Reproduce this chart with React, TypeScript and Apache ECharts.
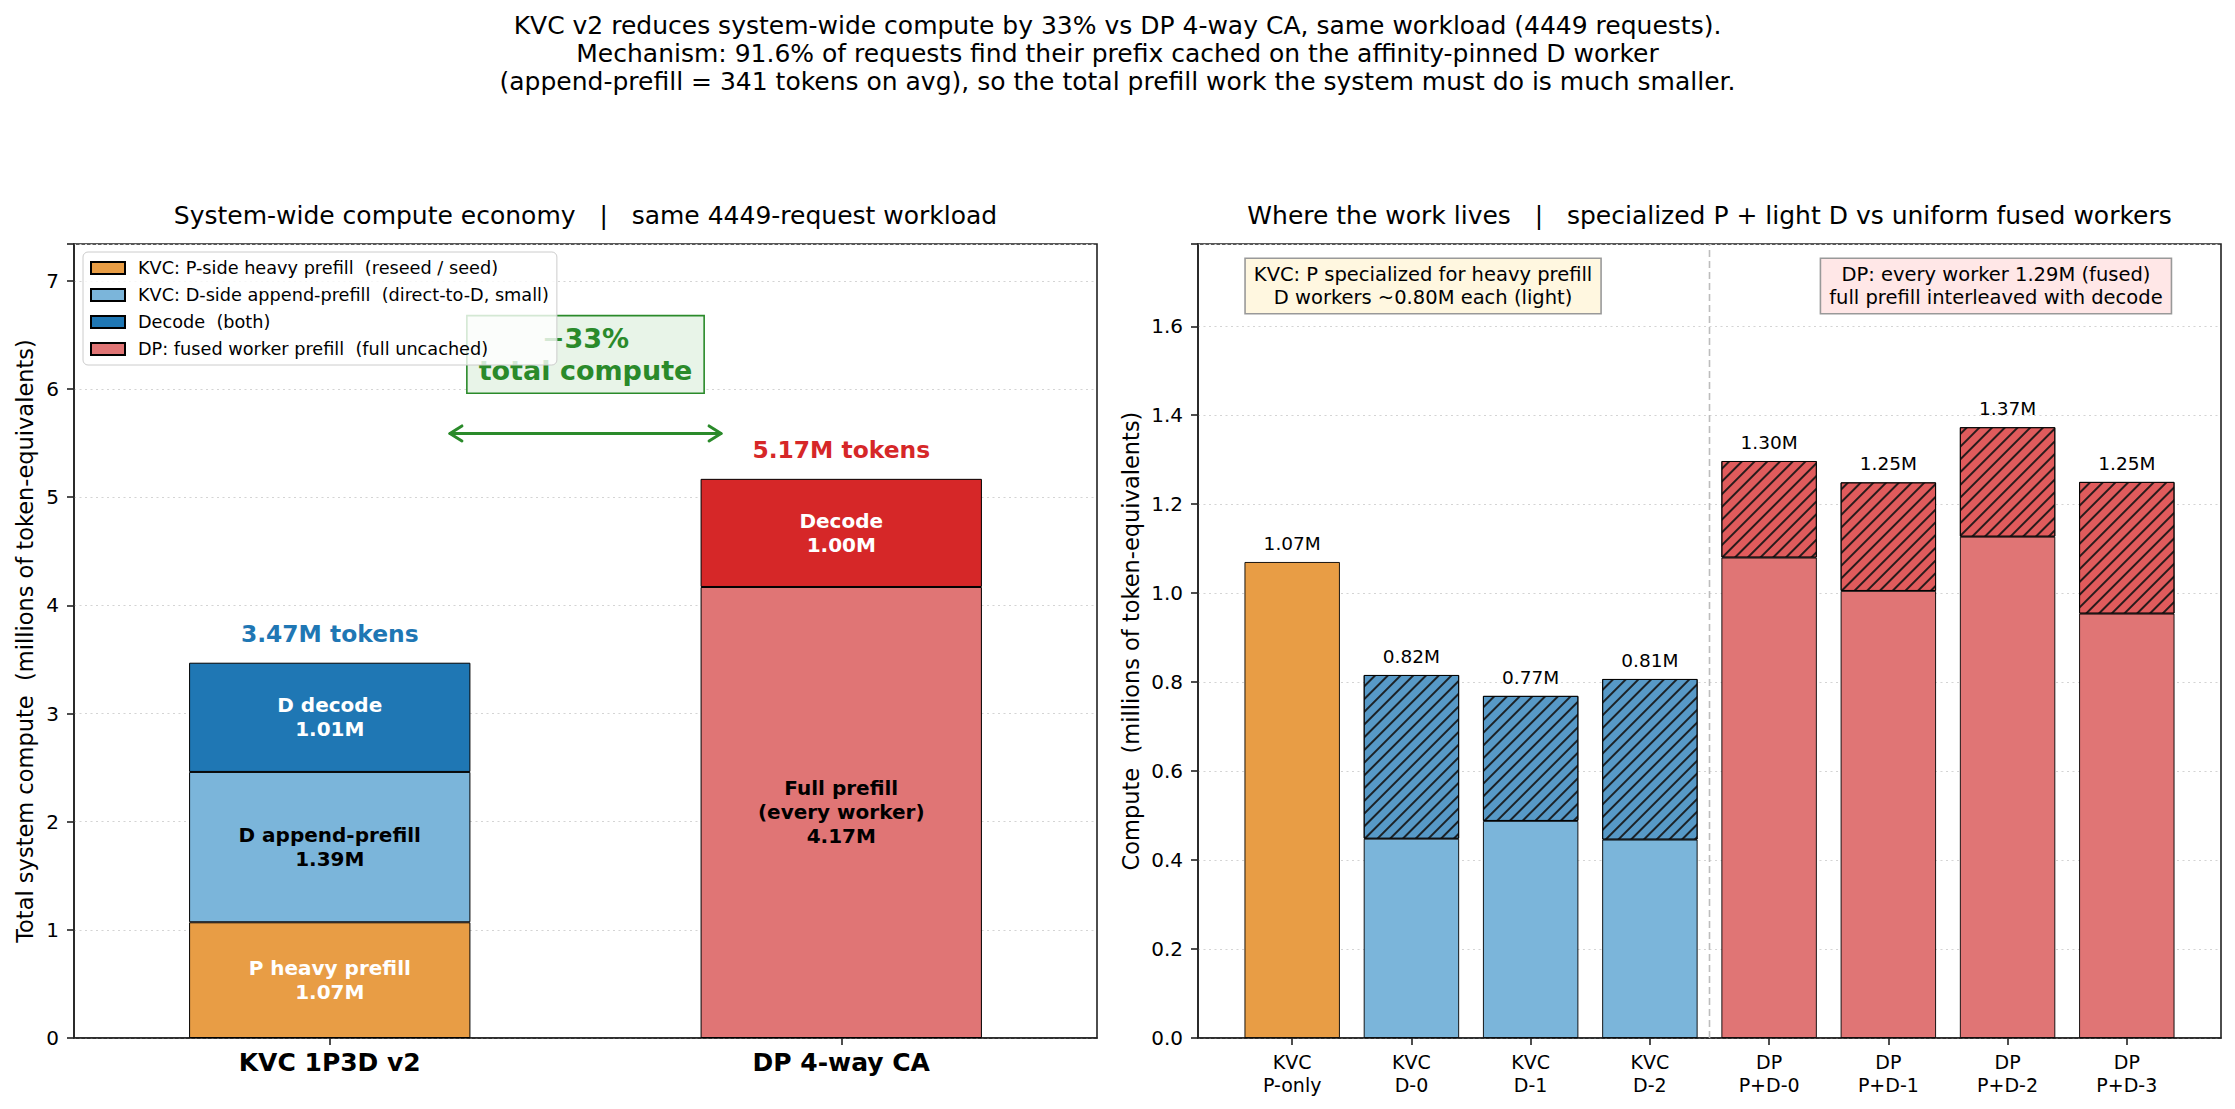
import React, { useEffect, useRef } from 'react';
import * as echarts from 'echarts';

const W = 2235;
const H = 1109;
const FONT = "'DejaVu Sans', 'Liberation Sans', Arial, sans-serif";

// ---- texts ----
const SUPTITLE = [
  'KVC v2 reduces system-wide compute by 33% vs DP 4-way CA, same workload (4449 requests).',
  'Mechanism: 91.6% of requests find their prefix cached on the affinity-pinned D worker',
  '(append-prefill = 341 tokens on avg), so the total prefill work the system must do is much smaller.',
];
const LEFT_TITLE = 'System-wide compute economy   |   same 4449-request workload';
const RIGHT_TITLE = 'Where the work lives   |   specialized P + light D vs uniform fused workers';
const LEFT_YNAME = 'Total system compute  (millions of token-equivalents)';
const RIGHT_YNAME = 'Compute  (millions of token-equivalents)';
const KVC_NOTE = 'KVC: P specialized for heavy prefill\nD workers ~0.80M each (light)';
const DP_NOTE = 'DP: every worker 1.29M (fused)\nfull prefill interleaved with decode';
const SAVING_NOTE = '\u221233%\ntotal compute';

// ---- left panel: system-wide totals (millions of token-equivalents) ----
const systemCategories = ['KVC 1P3D v2', 'DP 4-way CA'];
const pHeavyPrefill: (number | null)[] = [1.07, null];
const dAppendPrefill: (number | null)[] = [1.39, null];
const fusedPrefill: (number | null)[] = [null, 4.17];
const decodeWork: number[] = [1.01, 1.0];
const decodeLabels = ['D decode', 'Decode'];

const legendNames = [
  'KVC: P-side heavy prefill  (reseed / seed)',
  'KVC: D-side append-prefill  (direct-to-D, small)',
  'Decode  (both)',
  'DP: fused worker prefill  (full uncached)',
];

// ---- right panel: per-worker compute ----
const workerCategories = [
  'KVC\nP-only', 'KVC\nD-0', 'KVC\nD-1', 'KVC\nD-2',
  'DP\nP+D-0', 'DP\nP+D-1', 'DP\nP+D-2', 'DP\nP+D-3',
];
const workerRole = ['P', 'D', 'D', 'D', 'DP', 'DP', 'DP', 'DP'];
const workerPrefill = [1.07, 0.448, 0.488, 0.446, 1.08, 1.005, 1.127, 0.954];
const workerDecode: (number | null)[] = [null, 0.368, 0.281, 0.361, 0.217, 0.244, 0.246, 0.296];

// ---- colours ----
const ORANGE = '#e89d45';
const LIGHT_BLUE = '#7bb5da';
const BLUE = '#1f77b4';
const LIGHT_RED = '#e07575';
const RED = '#d62728';
const HATCH_BLUE = '#5799c7';
const HATCH_RED = '#e05b5c';
const GREEN = '#2a8a2a';
const AX = '#222222';
const GRID_LINE = '#d4d4d4';

// ---- layout ----
const LEFT_BOX = { x0: 74, x1: 1097, y0: 244, y1: 1038 };
const RIGHT_BOX = { x0: 1198, x1: 2221, y0: 244, y1: 1038 };
const WORKER_XMIN = -0.79;
const WORKER_XMAX = 7.79;
const ARROW_X = [0.233, 0.767];
const ARROW_Y = 5.59;
const SAVING_Y = 6.32;

const fmtM = (v: number) => `${v.toFixed(2)}M`;
const dash = (v: number | null) => (v == null ? '-' : v);

const systemTotals = systemCategories.map(
  (_, i) => (pHeavyPrefill[i] ?? 0) + (dAppendPrefill[i] ?? 0) + (fusedPrefill[i] ?? 0) + decodeWork[i]
);
const workerTotals = workerPrefill.map((v, i) => v + (workerDecode[i] ?? 0));
const LEFT_MAX = Math.max(...systemTotals) * 1.42;
const RIGHT_MAX = Math.max(...workerTotals) * 1.3;

// "//" hatch for the decode share of each worker
const HATCH = {
  symbol: 'rect',
  symbolSize: 1,
  color: 'rgba(20,20,20,0.9)',
  dashArrayX: [1, 0],
  dashArrayY: [2, 7],
  rotation: -Math.PI / 4,
};

const edge = { borderColor: '#000', borderWidth: 1 };

const segLabel = (color: string) => ({
  show: true,
  position: 'inside',
  color,
  fontFamily: FONT,
  fontWeight: 'bold',
  fontSize: 20,
  lineHeight: 24,
});

const tickFmt = (step: number, digits: number) => (v: number) =>
  Math.abs(v / step - Math.round(v / step)) < 1e-6 ? v.toFixed(digits) : '';

function buildOption(): any {
  const inset = ((-0.5 - WORKER_XMIN) / (WORKER_XMAX - WORKER_XMIN)) * (RIGHT_BOX.x1 - RIGHT_BOX.x0);
  const axisLine = { show: true, onZero: false, lineStyle: { color: AX, width: 1.6 } };
  const axisTick = { show: true, length: 7, lineStyle: { color: AX, width: 1.6 } };
  const splitLine = { show: true, lineStyle: { color: GRID_LINE, width: 1.2, type: [2, 3.5] } };
  const tickLabel = { color: '#000', fontFamily: FONT, fontSize: 20, margin: 15 };

  return {
    animation: false,
    backgroundColor: '#ffffff',
    textStyle: { fontFamily: FONT },
    legend: {
      data: legendNames,
      orient: 'vertical',
      left: 83,
      top: 252,
      itemWidth: 34,
      itemHeight: 12,
      itemGap: 7,
      icon: 'rect',
      z: 10,
      backgroundColor: 'rgba(255,255,255,0.8)',
      borderColor: '#cccccc',
      borderWidth: 1,
      borderRadius: 5,
      padding: [6, 8, 6, 7],
      selectedMode: false,
      textStyle: { color: '#000', fontFamily: FONT, fontSize: 17.7, lineHeight: 20, padding: [0, 0, 0, 8] },
    },
    grid: [
      {
        left: LEFT_BOX.x0, right: W - LEFT_BOX.x1, top: LEFT_BOX.y0, bottom: H - LEFT_BOX.y1,
        show: true, borderColor: AX, borderWidth: 1.6, backgroundColor: 'transparent',
      },
      {
        left: RIGHT_BOX.x0, right: W - RIGHT_BOX.x1, top: RIGHT_BOX.y0, bottom: H - RIGHT_BOX.y1,
        show: true, borderColor: AX, borderWidth: 1.6, backgroundColor: 'transparent',
      },
      {
        left: RIGHT_BOX.x0 + inset, right: W - RIGHT_BOX.x1 + inset, top: RIGHT_BOX.y0, bottom: H - RIGHT_BOX.y1,
      },
    ],
    xAxis: [
      {
        gridIndex: 0, type: 'category', data: systemCategories,
        axisLine, axisTick: { ...axisTick, alignWithLabel: true },
        axisLabel: { color: '#000', fontFamily: FONT, fontSize: 25, fontWeight: 'bold', margin: 12 },
      },
      { gridIndex: 0, type: 'value', min: -0.5, max: 1.5, show: false },
      {
        gridIndex: 1, type: 'value', min: WORKER_XMIN, max: WORKER_XMAX,
        axisLine, axisTick: { show: false }, axisLabel: { show: false }, splitLine: { show: false },
      },
      {
        gridIndex: 2, type: 'category', data: workerCategories,
        axisLine: { show: false }, axisTick: { ...axisTick, alignWithLabel: true },
        axisLabel: { color: '#000', fontFamily: FONT, fontSize: 19, lineHeight: 23, margin: 12 },
      },
    ],
    yAxis: [
      {
        gridIndex: 0, type: 'value', min: 0, max: LEFT_MAX, interval: 1,
        axisLine, axisTick, splitLine,
        axisLabel: { ...tickLabel, formatter: tickFmt(1, 0) },
        name: LEFT_YNAME, nameLocation: 'middle', nameGap: 38,
        nameTextStyle: { color: '#000', fontFamily: FONT, fontSize: 22.5 },
      },
      {
        gridIndex: 1, type: 'value', min: 0, max: RIGHT_MAX, interval: 0.2,
        axisLine, axisTick, splitLine,
        axisLabel: { ...tickLabel, formatter: tickFmt(0.2, 1) },
        name: RIGHT_YNAME, nameLocation: 'middle', nameGap: 56,
        nameTextStyle: { color: '#000', fontFamily: FONT, fontSize: 22.5 },
      },
      { gridIndex: 2, type: 'value', min: 0, max: RIGHT_MAX, show: false },
    ],
    series: [
      // left panel stacks
      {
        name: legendNames[0], type: 'bar', stack: 'system', xAxisIndex: 0, yAxisIndex: 0,
        barWidth: '55%', data: pHeavyPrefill.map(dash),
        itemStyle: { color: ORANGE, ...edge },
        label: { ...segLabel('#fff'), formatter: (p: any) => `P heavy prefill\n${fmtM(p.value)}` },
      },
      {
        name: legendNames[1], type: 'bar', stack: 'system', xAxisIndex: 0, yAxisIndex: 0,
        barWidth: '55%', data: dAppendPrefill.map(dash),
        itemStyle: { color: LIGHT_BLUE, ...edge },
        label: { ...segLabel('#000'), formatter: (p: any) => `D append-prefill\n${fmtM(p.value)}` },
      },
      {
        name: legendNames[3], type: 'bar', stack: 'system', xAxisIndex: 0, yAxisIndex: 0,
        barWidth: '55%', data: fusedPrefill.map(dash),
        itemStyle: { color: LIGHT_RED, ...edge },
        label: { ...segLabel('#000'), formatter: (p: any) => `Full prefill\n(every worker)\n${fmtM(p.value)}` },
      },
      {
        name: legendNames[2], type: 'bar', stack: 'system', xAxisIndex: 0, yAxisIndex: 0,
        barWidth: '55%',
        data: decodeWork.map((v, i) => ({ value: v, itemStyle: { color: i === 0 ? BLUE : RED } })),
        itemStyle: { color: BLUE, ...edge },
        label: { ...segLabel('#fff'), formatter: (p: any) => `${decodeLabels[p.dataIndex]}\n${fmtM(p.value)}` },
      },
      {
        name: 'System total', type: 'bar', xAxisIndex: 0, yAxisIndex: 0,
        barWidth: '55%', barGap: '-100%', silent: true, z: 1,
        data: systemTotals.map((v, i) => ({
          value: v,
          label: { color: i === 0 ? BLUE : RED },
        })),
        itemStyle: { color: 'rgba(0,0,0,0)', borderWidth: 0 },
        label: {
          show: true, position: 'top', distance: 17,
          fontFamily: FONT, fontWeight: 'bold', fontSize: 23.4,
          formatter: (p: any) => `${fmtM(p.value)} tokens`,
        },
      },
      // right panel stacks
      {
        name: 'Worker prefill', type: 'bar', stack: 'worker', xAxisIndex: 3, yAxisIndex: 2,
        barWidth: '80%',
        data: workerPrefill.map((v, i) => ({
          value: v,
          itemStyle: { color: workerRole[i] === 'P' ? ORANGE : workerRole[i] === 'D' ? LIGHT_BLUE : LIGHT_RED },
        })),
        itemStyle: { ...edge, borderWidth: 0.9 },
      },
      {
        name: 'Worker decode', type: 'bar', stack: 'worker', xAxisIndex: 3, yAxisIndex: 2,
        barWidth: '80%',
        data: workerDecode.map((v, i) =>
          v == null
            ? '-'
            : {
                value: v,
                itemStyle: { color: workerRole[i] === 'D' ? HATCH_BLUE : HATCH_RED, decal: HATCH },
              }
        ),
        itemStyle: { ...edge, borderWidth: 0.9 },
      },
      {
        name: 'Worker total', type: 'bar', xAxisIndex: 3, yAxisIndex: 2,
        barWidth: '80%', barGap: '-100%', silent: true, z: 1,
        data: workerTotals,
        itemStyle: { color: 'rgba(0,0,0,0)', borderWidth: 0 },
        label: {
          show: true, position: 'top', distance: 9, color: '#000',
          fontFamily: FONT, fontSize: 18.5,
          formatter: (p: any) => fmtM(p.value),
        },
      },
    ],
  };
}

function buildGraphics(chart: echarts.ECharts): any[] {
  const toL = (pt: number[]) => chart.convertToPixel({ xAxisIndex: 1, yAxisIndex: 0 } as any, pt) as number[];
  const toR = (pt: number[]) => chart.convertToPixel({ xAxisIndex: 2, yAxisIndex: 1 } as any, pt) as number[];

  const [a1x, ay] = toL([ARROW_X[0], ARROW_Y]);
  const [a2x] = toL([ARROW_X[1], ARROW_Y]);
  const [bx, by] = toL([0.5, SAVING_Y]);
  const [sx, sBottom] = toR([3.5, 0]);
  const [, sTop] = toR([3.5, RIGHT_MAX]);

  const rw = RIGHT_BOX.x1 - RIGHT_BOX.x0;
  const head = 13;
  const hw = 7.5;
  const greenLine = { stroke: GREEN, lineWidth: 3, fill: 'none', lineJoin: 'round', lineCap: 'round' };

  return [
    {
      type: 'text', x: W / 2, y: 11, z: 5,
      style: {
        text: SUPTITLE.join('\n'), fill: '#000', font: `25px ${FONT}`,
        align: 'center', verticalAlign: 'top', lineHeight: 28,
      },
    },
    {
      type: 'text', x: (LEFT_BOX.x0 + LEFT_BOX.x1) / 2, y: 215, z: 5,
      style: { text: LEFT_TITLE, fill: '#000', font: `25px ${FONT}`, align: 'center', verticalAlign: 'middle' },
    },
    {
      type: 'text', x: (RIGHT_BOX.x0 + RIGHT_BOX.x1) / 2, y: 215, z: 5,
      style: { text: RIGHT_TITLE, fill: '#000', font: `25px ${FONT}`, align: 'center', verticalAlign: 'middle' },
    },
    // saving badge (below legend)
    {
      type: 'text', x: bx, y: by, z: 1,
      style: {
        text: SAVING_NOTE, fill: GREEN, font: `bold 27px ${FONT}`, align: 'center', verticalAlign: 'middle',
        lineHeight: 32, backgroundColor: '#e8f4e8', borderColor: GREEN, borderWidth: 1.6, padding: [6, 11, 6, 11],
      },
    },
    // double-headed arrow between the two totals
    { type: 'line', z: 2, shape: { x1: a1x + 1, y1: ay, x2: a2x - 1, y2: ay }, style: greenLine },
    {
      type: 'polyline', z: 2,
      shape: { points: [[a1x + head, ay - hw], [a1x + 1, ay], [a1x + head, ay + hw]] },
      style: greenLine,
    },
    {
      type: 'polyline', z: 2,
      shape: { points: [[a2x - head, ay - hw], [a2x - 1, ay], [a2x - head, ay + hw]] },
      style: greenLine,
    },
    // KVC / DP separator
    {
      type: 'line', z: 2, shape: { x1: sx, y1: sBottom, x2: sx, y2: sTop },
      style: { stroke: '#bdbdbd', lineWidth: 1.6, lineDash: [7, 4] },
    },
    {
      type: 'text', x: RIGHT_BOX.x0 + 0.22 * rw, y: 259, z: 3,
      style: {
        text: KVC_NOTE, fill: '#000', font: `19.5px ${FONT}`, align: 'center', verticalAlign: 'top',
        lineHeight: 23, backgroundColor: '#fff7e0', borderColor: '#999999', borderWidth: 1.6, padding: [4, 8, 4, 8],
      },
    },
    {
      type: 'text', x: RIGHT_BOX.x0 + 0.78 * rw, y: 259, z: 3,
      style: {
        text: DP_NOTE, fill: '#000', font: `19.5px ${FONT}`, align: 'center', verticalAlign: 'top',
        lineHeight: 23, backgroundColor: '#ffe7e7', borderColor: '#999999', borderWidth: 1.6, padding: [4, 8, 4, 8],
      },
    },
  ];
}

export default function App() {
  const ref = useRef<HTMLDivElement>(null);
  useEffect(() => {
    document.body.style.margin = '0';
    const el = ref.current;
    if (!el) return;
    const chart = echarts.init(el, undefined, { renderer: 'svg', width: W, height: H });
    chart.setOption(buildOption());
    chart.setOption({ graphic: buildGraphics(chart) });
    return () => chart.dispose();
  }, []);
  return (
    <div
      ref={ref}
      style={{ position: 'absolute', left: 0, top: 0, width: W, height: H, background: '#ffffff' }}
    />
  );
}
